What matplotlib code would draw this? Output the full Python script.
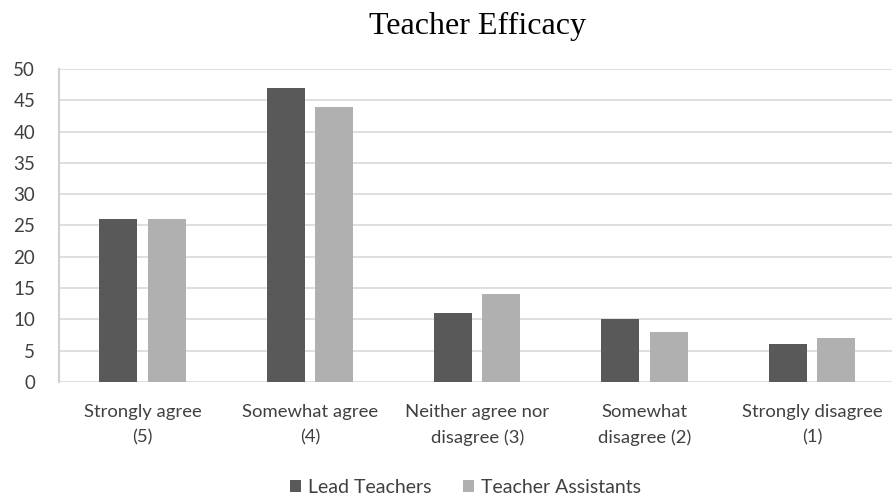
import matplotlib
matplotlib.use('Agg')
import matplotlib.pyplot as plt
import numpy as np

categories = ['Strongly agree\n(5)', 'Somewhat agree\n(4)', 'Neither agree nor\ndisagree (3)',
              'Somewhat\ndisagree (2)', 'Strongly disagree\n(1)']
lead_teachers = [26, 47, 11, 10, 6]
teacher_assistants = [26, 44, 14, 8, 7]
series_names = ['Lead Teachers', 'Teacher Assistants']

plt.rcParams['font.family'] = ['Lato', 'DejaVu Sans']

fig = plt.figure(figsize=(8.92, 4.96), dpi=100)
ax = fig.add_axes([0.066, 0.230, 0.938, 0.631])

x = np.arange(len(categories))
bar_width = 0.227
offset = 0.145

# Graph
ax.bar(x - offset, lead_teachers, width=bar_width, color='#595959', label=series_names[0], zorder=3)
ax.bar(x + offset, teacher_assistants, width=bar_width, color='#b0b0b0', label=series_names[1], zorder=3)

# Axes
ax.set_xlim(-0.5, len(categories) - 0.5)
ax.set_ylim(0, 50)
ax.set_yticks(range(0, 51, 5))
ax.set_xticks(x)
ax.set_xticklabels(categories, fontsize=13.3, color='#404040', linespacing=1.7)
ax.tick_params(axis='y', labelsize=13.5, labelcolor='#404040', length=0, pad=17)
ax.tick_params(axis='x', length=0, pad=16)
ax.grid(axis='y', color='#d9d9d9', linewidth=1.2, zorder=0)
for side in ['top', 'right', 'bottom']:
    ax.spines[side].set_visible(False)
ax.spines['left'].set_color('#d0d0d0')
ax.spines['left'].set_linewidth(1.5)

# Title
ax.set_title('Teacher Efficacy', family='Liberation Serif', fontsize=23, color='#000000', pad=25)

# Legend
fig.legend(loc='lower center', bbox_to_anchor=(0.522, -0.035), ncol=2, frameon=False,
           fontsize=14, labelcolor='#404040', handlelength=0.55, handleheight=0.55,
           handletextpad=0.4, columnspacing=1.6)

fig.savefig('out.png', dpi=100)
